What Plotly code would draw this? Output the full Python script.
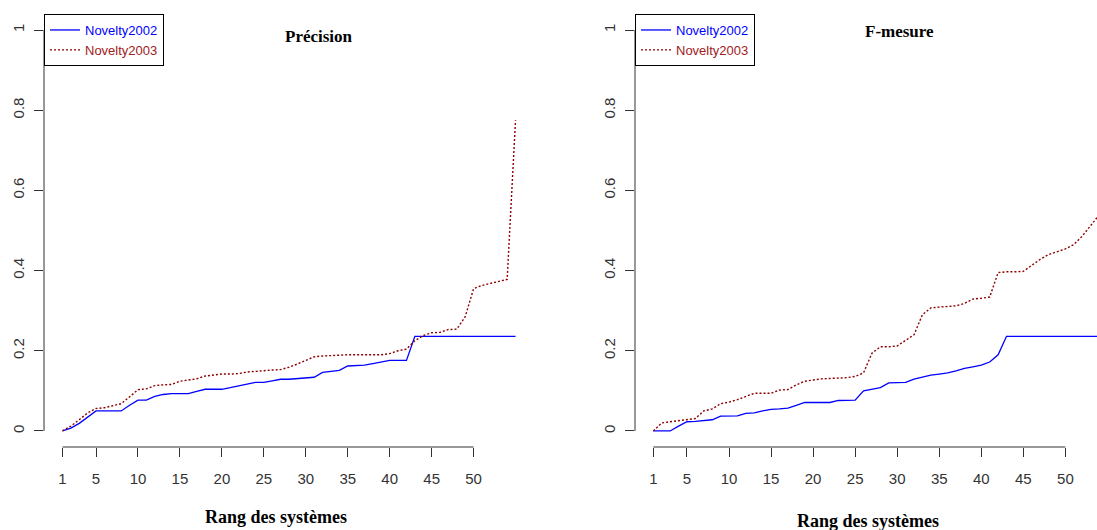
import plotly.graph_objects as go

W, H = 1097, 530

rang = list(range(1, 56))

prec_2002 = [0, 0.007, 0.019, 0.034, 0.05, 0.05, 0.05, 0.05, 0.064, 0.077,
             0.077, 0.086, 0.091, 0.093, 0.093, 0.093, 0.099, 0.104, 0.104, 0.104,
             0.108, 0.113, 0.117, 0.121, 0.121, 0.125, 0.129, 0.129, 0.131, 0.133,
             0.134, 0.146, 0.148, 0.151, 0.162, 0.163, 0.164, 0.168, 0.172, 0.176,
             0.176, 0.176, 0.236, 0.236, 0.236, 0.236, 0.236, 0.236, 0.236, 0.236,
             0.236, 0.236, 0.236, 0.236, 0.236]
prec_2003 = [0, 0.012, 0.028, 0.045, 0.056, 0.058, 0.063, 0.068, 0.085, 0.103,
             0.105, 0.113, 0.115, 0.116, 0.124, 0.127, 0.13, 0.137, 0.14, 0.142,
             0.142, 0.143, 0.147, 0.149, 0.15, 0.152, 0.153, 0.159, 0.167, 0.176,
             0.185, 0.187, 0.188, 0.19, 0.19, 0.19, 0.19, 0.19, 0.19, 0.193,
             0.2, 0.204, 0.225, 0.238, 0.245, 0.246, 0.253, 0.254, 0.285, 0.355,
             0.363, 0.368, 0.373, 0.378, 0.775]

fmes_2002 = [0, 0, 0, 0.012, 0.023, 0.024, 0.026, 0.028, 0.037, 0.0375,
             0.0375, 0.044, 0.045, 0.05, 0.054, 0.055, 0.057, 0.064, 0.071, 0.071,
             0.071, 0.071, 0.076, 0.077, 0.077, 0.1, 0.104, 0.108, 0.12, 0.121,
             0.121, 0.129, 0.134, 0.139, 0.142, 0.145, 0.15, 0.156, 0.16, 0.164,
             0.172, 0.19, 0.236, 0.236, 0.236, 0.236, 0.236, 0.236, 0.236, 0.236,
             0.236, 0.236, 0.236, 0.236, 0.236]
fmes_2003 = [0, 0.02, 0.023, 0.026, 0.029, 0.031, 0.05, 0.055, 0.068, 0.072,
             0.078, 0.087, 0.094, 0.094, 0.094, 0.102, 0.103, 0.115, 0.124, 0.127,
             0.13, 0.131, 0.132, 0.133, 0.136, 0.145, 0.194, 0.21, 0.21, 0.212,
             0.226, 0.24, 0.29, 0.307, 0.309, 0.311, 0.312, 0.318, 0.329, 0.331,
             0.334, 0.395, 0.397, 0.397, 0.398, 0.413, 0.428, 0.44, 0.448, 0.454,
             0.465, 0.486, 0.512, 0.54, 0.565]

x_ticks = [1, 5, 10, 15, 20, 25, 30, 35, 40, 45, 50]
y_ticks = [0, 0.2, 0.4, 0.6, 0.8, 1]
y_tick_text = ["0", "0.2", "0.4", "0.6", "0.8", "1"]

BLUE = "#0000FF"
RED = "#8B0000"
AX = "#333333"

fig = go.Figure()

def add_pair(xa, ya, v02, v03, leg):
    fig.add_trace(go.Scatter(
        x=rang, y=v02, mode="lines", xaxis=xa, yaxis=ya, legend=leg,
        name="<span style='color:#0000FF'>Novelty2002</span>",
        line=dict(color=BLUE, width=1.3)))
    fig.add_trace(go.Scatter(
        x=rang, y=v03, mode="lines", xaxis=xa, yaxis=ya, legend=leg,
        name="<span style='color:#A02020'>Novelty2003</span>",
        line=dict(color=RED, width=1.4, dash="2px,2px")))

add_pair("x", "y", prec_2002, prec_2003, "legend")
add_pair("x2", "y2", fmes_2002, fmes_2003, "legend2")

tickfont = dict(family="Liberation Sans, Arial", size=15, color="#333333")

xcommon = dict(tickmode="array", tickvals=x_ticks, ticks="outside", ticklen=9,
               tickcolor=AX, tickwidth=1, showgrid=False, zeroline=False,
               showline=False, tickfont=tickfont, ticklabelstandoff=9)
ycommon = dict(tickmode="array", tickvals=y_ticks, ticktext=y_tick_text,
               ticks="outside", ticklen=9, tickcolor=AX, tickwidth=1,
               showgrid=False, zeroline=False, showline=False,
               tickfont=tickfont, tickangle=-90, range=[-0.04, 1.04],
               domain=[83 / H, 516 / H], ticklabelstandoff=4)

legcommon = dict(xanchor="left", yanchor="top", bordercolor="black",
                 borderwidth=1, bgcolor="white",
                 font=dict(family="Liberation Sans, Arial", size=13),
                 itemwidth=30, tracegroupgap=0)

fig.update_layout(
    width=W, height=H,
    margin=dict(l=0, r=0, t=0, b=0),
    paper_bgcolor="white", plot_bgcolor="white",
    xaxis=dict(domain=[44 / W, 534 / W], range=[-1.2, 57.2], anchor="y", **xcommon),
    yaxis=dict(anchor="x", **ycommon),
    xaxis2=dict(domain=[635 / W, 1.0], range=[-1.18, 53.76], anchor="y2", **xcommon),
    yaxis2=dict(anchor="x2", **ycommon),
    legend=dict(x=44 / W, y=1 - 14 / H, **legcommon),
    legend2=dict(x=635 / W, y=1 - 14 / H, **legcommon),
    showlegend=True,
)

line_style = dict(color=AX, width=1)
for xa, ya in (("x", "y"), ("x2", "y2")):
    # R-style axis lines spanning only first to last tick
    fig.add_shape(type="line", xref=f"{xa} domain", yref=ya, x0=0, x1=0,
                  y0=y_ticks[0], y1=y_ticks[-1], line=line_style)
    fig.add_shape(type="line", xref=xa, yref=f"{ya} domain", x0=x_ticks[0],
                  x1=x_ticks[-1], y0=0, y1=0, line=line_style)

titlefont = dict(family="Liberation Serif, Times New Roman", size=17, color="black")
xlabfont = dict(family="Liberation Serif, Times New Roman", size=18, color="black")
ann = dict(xref="paper", yref="paper", showarrow=False, xanchor="center",
           yanchor="middle")
fig.add_annotation(text="<b>Précision</b>", x=319 / W, y=1 - 37 / H, font=titlefont, **ann)
fig.add_annotation(text="<b>F-mesure</b>", x=899 / W, y=1 - 32 / H, font=titlefont, **ann)
fig.add_annotation(text="<b>Rang des systèmes</b>", x=276 / W, y=1 - 517 / H,
                   font=xlabfont, **ann)
fig.add_annotation(text="<b>Rang des systèmes</b>", x=868 / W, y=1 - 521 / H,
                   font=xlabfont, **ann)

fig.write_html("out.html", config={"displayModeBar": False},
               post_script="document.body.style.margin='0';document.body.style.overflow='hidden';")
